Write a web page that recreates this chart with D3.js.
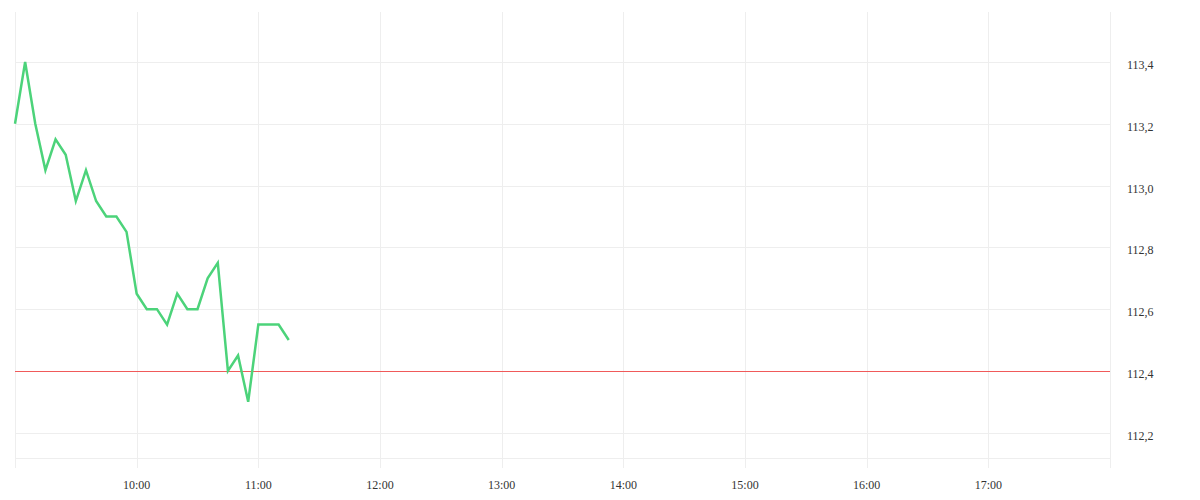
<!DOCTYPE html>
<html>
<head>
<meta charset="utf-8">
<script src="https://cdn.jsdelivr.net/npm/d3@7"></script>
<style>
  body { margin: 0; background: #fff; }
  text { font-family: serif; font-size: 12px; fill: #333; }
</style>
</head>
<body>
<svg id="chart" width="1200" height="500"></svg>
<script>
// intraday quotes, one every 5 minutes from 09:00
var startTime = '09:00';
var prices = [
  113.2, 113.4, 113.2, 113.05, 113.15, 113.1, 112.95, 113.05, 112.95, 112.9,
  112.9, 112.85, 112.65, 112.6, 112.6, 112.55, 112.65, 112.6, 112.6, 112.7,
  112.75, 112.4, 112.45, 112.3, 112.55, 112.55, 112.55, 112.5
];
var prevClose = 112.4;
var yTicks = [112.2, 112.4, 112.6, 112.8, 113.0, 113.2, 113.4];
var xTicks = ['10:00', '11:00', '12:00', '13:00', '14:00', '15:00', '16:00', '17:00'];

function renderChart() {
  var parse = d3.timeParse('%H:%M');
  var t0 = parse(startTime);
  var data = prices.map(function(p, i) {
    return { t: d3.timeMinute.offset(t0, i * 5), v: p };
  });

  var svg = d3.select('#chart');
  var plotL = 15, plotR = 1110, plotT = 12, plotB = 458;

  var x = d3.scaleTime()
    .domain([parse('09:00'), parse('18:00')])
    .range([plotL, plotR]);
  var y = d3.scaleLinear()
    .domain([112.118, 113.562])
    .range([plotB, plotT]);

  var grid = svg.append('g');

  // horizontal grid
  grid.selectAll('line.h')
    .data(yTicks)
    .enter().append('line')
    .attr('x1', plotL).attr('x2', plotR)
    .attr('y1', function(d) { return Math.round(y(d)) + 0.5; })
    .attr('y2', function(d) { return Math.round(y(d)) + 0.5; })
    .attr('stroke', '#eeeeee');

  grid.append('line')
    .attr('x1', plotL).attr('x2', plotR)
    .attr('y1', plotB + 0.5).attr('y2', plotB + 0.5)
    .attr('stroke', '#eeeeee');

  // vertical grid, running past the bottom edge as ticks
  var vLines = xTicks.map(parse).concat([parse('09:00'), parse('18:00')]);
  grid.selectAll('line.v')
    .data(vLines)
    .enter().append('line')
    .attr('x1', function(d) { return Math.round(x(d)) + 0.5; })
    .attr('x2', function(d) { return Math.round(x(d)) + 0.5; })
    .attr('y1', plotT).attr('y2', plotB + 10)
    .attr('stroke', '#eeeeee');

  // x labels
  svg.append('g').selectAll('text')
    .data(xTicks)
    .enter().append('text')
    .attr('x', function(d) { return x(parse(d)); })
    .attr('y', 489)
    .attr('text-anchor', 'middle')
    .text(function(d) { return d; });

  // y labels, comma decimals, sitting just under their grid line
  svg.append('g').selectAll('text')
    .data(yTicks)
    .enter().append('text')
    .attr('x', plotR + 17)
    .attr('y', function(d) { return y(d) + 7; })
    .text(function(d) { return d.toFixed(1).replace('.', ','); });

  // previous close
  svg.append('line')
    .attr('x1', plotL).attr('x2', plotR)
    .attr('y1', Math.round(y(prevClose)) + 0.5)
    .attr('y2', Math.round(y(prevClose)) + 0.5)
    .attr('stroke', '#f05a5a')
    .attr('stroke-width', 1);

  var line = d3.line()
    .x(function(d) { return x(d.t); })
    .y(function(d) { return y(d.v); });

  svg.append('path')
    .datum(data)
    .attr('d', line)
    .attr('fill', 'none')
    .attr('stroke', '#4cd37a')
    .attr('stroke-width', 2.5)
    .attr('stroke-linejoin', 'miter');
}

renderChart();
</script>
</body>
</html>
